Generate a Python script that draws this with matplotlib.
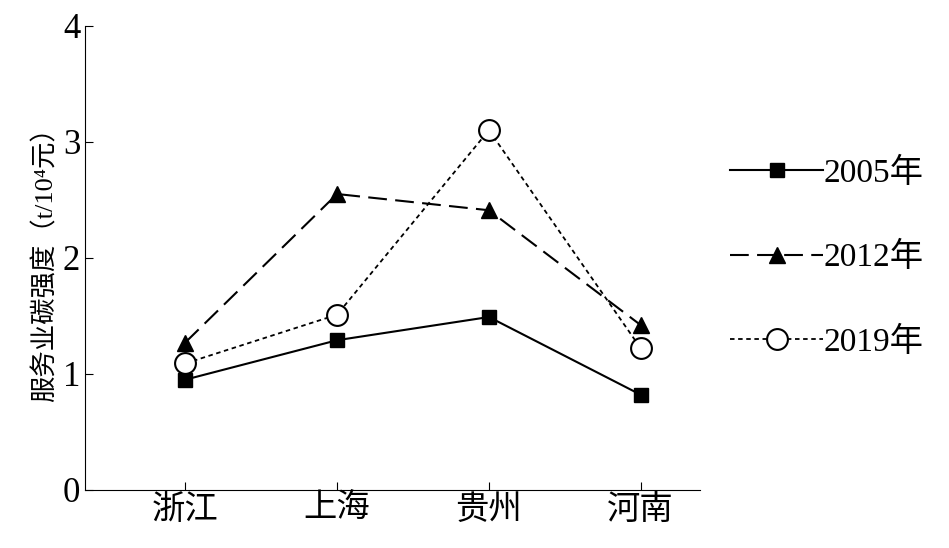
import matplotlib
matplotlib.use("Agg")
import matplotlib.pyplot as plt

plt.rcParams['font.family'] = ['Liberation Serif', 'Noto Sans CJK SC']

provinces = ['浙江', '上海', '贵州', '河南']
v2005 = [0.95, 1.29, 1.49, 0.82]
v2012 = [1.27, 2.55, 2.41, 1.42]
v2019 = [1.09, 1.51, 3.10, 1.22]

fig = plt.figure(figsize=(9.49, 5.48), dpi=100)
ax = fig.add_axes([0.0896, 0.106, 0.648, 0.847])
x = range(len(provinces))

ax.plot(x, v2005, color='black', lw=1.5, marker='s', ms=10, label='2005年')
ax.plot(x, v2012, color='black', lw=1.5, ls=(0, (9, 4)), marker='^', ms=12, label='2012年')
ax.plot(x, v2019, color='black', lw=1.3, ls=(0, (2.5, 2)), marker='o', ms=15,
        mfc='white', mew=1.5, label='2019年')

ax.set_xlim(-0.66, 3.39)
ax.set_ylim(0, 4)
ax.set_yticks([0, 1, 2, 3, 4])
ax.set_xticks(list(x))
ax.set_xticklabels(provinces, fontsize=24)
ax.tick_params(axis='y', direction='in', labelsize=25, length=6)
ax.tick_params(axis='x', direction='in', length=6)
for s in ['top', 'right']:
    ax.spines[s].set_visible(False)
ax.set_ylabel('服务业碳强度（t/10⁴元）', fontsize=19)

ax.legend(loc='center left', bbox_to_anchor=(1.0, 0.5), frameon=False,
          fontsize=24, handlelength=2.8, labelspacing=1.6, handletextpad=0.0)

fig.savefig('out.png', dpi=100)
